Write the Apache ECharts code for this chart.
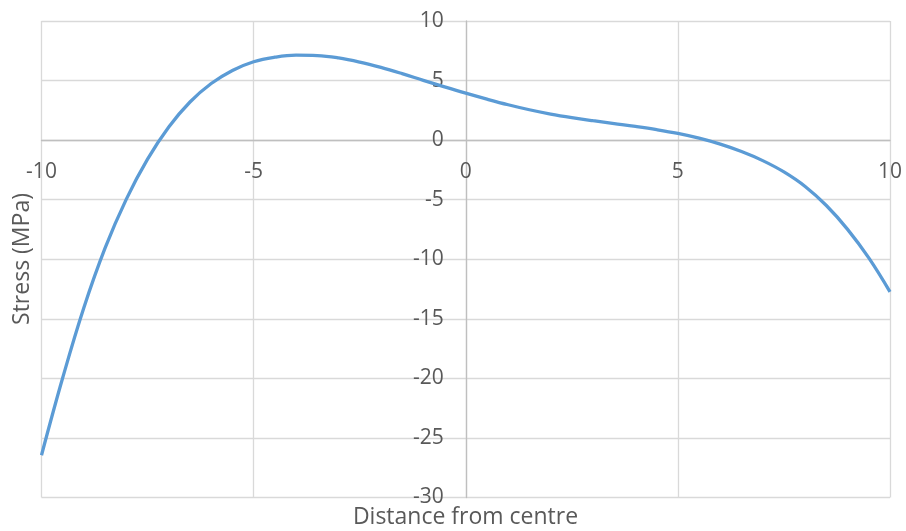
<!DOCTYPE html>
<html>
<head>
<meta charset="utf-8">
<style>
  html, body { margin: 0; padding: 0; background: #ffffff; }
  #chart { width: 906px; height: 531px; }
</style>
<script src="https://cdn.jsdelivr.net/npm/echarts@6/dist/echarts.min.js"></script>
</head>
<body>
<div id="chart"></div>
<script>
// Distance from the centre of the section
const distance = [
  -10, -9.5, -9, -8.5, -8, -7.5, -7, -6.5, -6, -5.5,
  -5, -4.5, -4, -3.5, -3, -2.5, -2, -1.5, -1, -0.5,
  0, 0.5, 1, 1.5, 2, 2.5, 3, 3.5, 4, 4.5,
  5, 5.5, 6, 6.5, 7, 7.5, 8, 8.5, 9, 9.5, 10
];

// Stress along the section (MPa)
const stress = [
  -26.45, -19.95, -14.05, -9.05, -4.95, -1.6, 1.1, 3.2, 4.75, 5.85,
  6.58, 6.96, 7.13, 7.1, 6.9, 6.55, 6.1, 5.58, 5.02, 4.47,
  3.94, 3.44, 2.97, 2.55, 2.19, 1.89, 1.63, 1.39, 1.15, 0.88,
  0.56, 0.16, -0.34, -0.96, -1.72, -2.67, -3.89, -5.49, -7.49, -9.89, -12.74
];

// Axis settings
const xTicks = { min: -10, max: 10, step: 5 };
const yTicks = { min: -30, max: 10, step: 5 };
const xTitle = 'Distance from centre';
const yTitle = 'Stress (MPa)';

const font = '"Open Sans", "Noto Sans", sans-serif';
const textColor = '#595959';
const gridColor = '#d9d9d9';
const axisColor = '#bfbfbf';

// Plot box
const box = { left: 41.5, right: 16, top: 21, bottom: 33.5 };
const plotW = 906 - box.left - box.right;
const plotH = 531 - box.top - box.bottom;

// The axes cross at the origin: shift each axis from its grid edge to the zero line
const xAxisShift = -plotH * (0 - yTicks.min) / (yTicks.max - yTicks.min);
const yAxisShift = -plotW * (0 - xTicks.min) / (xTicks.max - xTicks.min);

const chart = echarts.init(document.getElementById('chart'), null, { renderer: 'canvas' });

chart.setOption({
  animation: false,
  backgroundColor: '#ffffff',
  grid: {
    left: box.left, right: box.right, top: box.top, bottom: box.bottom,
    containLabel: false, outerBoundsMode: 'none'
  },
  xAxis: {
    type: 'value',
    min: xTicks.min,
    max: xTicks.max,
    interval: xTicks.step,
    offset: xAxisShift,
    axisLine: { show: true, onZero: false, lineStyle: { color: axisColor, width: 1.3 } },
    axisTick: { show: false },
    axisLabel: {
      color: textColor, fontFamily: font, fontSize: 21, margin: 21,
      showMinLabel: true, showMaxLabel: true, hideOverlap: false
    },
    splitLine: { show: true, lineStyle: { color: gridColor, width: 1.3 } }
  },
  yAxis: {
    type: 'value',
    min: yTicks.min,
    max: yTicks.max,
    interval: yTicks.step,
    offset: yAxisShift,
    axisLine: { show: true, onZero: false, lineStyle: { color: axisColor, width: 1.3 } },
    axisTick: { show: false },
    axisLabel: {
      color: textColor, fontFamily: font, fontSize: 21, margin: 22,
      showMinLabel: true, showMaxLabel: true, hideOverlap: false
    },
    splitLine: { show: true, lineStyle: { color: gridColor, width: 1.3 } }
  },
  graphic: [
    {
      type: 'text',
      x: 465.5, y: 517,
      style: {
        text: xTitle, fill: textColor, font: '23px ' + font,
        textAlign: 'center', textVerticalAlign: 'middle'
      }
    },
    {
      type: 'text',
      x: 22, y: 259, rotation: Math.PI / 2,
      style: {
        text: yTitle, fill: textColor, font: '23px ' + font,
        textAlign: 'center', textVerticalAlign: 'middle'
      }
    }
  ],
  series: [{
    type: 'line',
    data: distance.map((d, i) => [d, stress[i]]),
    smooth: 0.4,
    showSymbol: false,
    lineStyle: { color: '#5b9bd5', width: 3.3 },
    itemStyle: { color: '#5b9bd5' },
    clip: true
  }]
});
</script>
</body>
</html>
